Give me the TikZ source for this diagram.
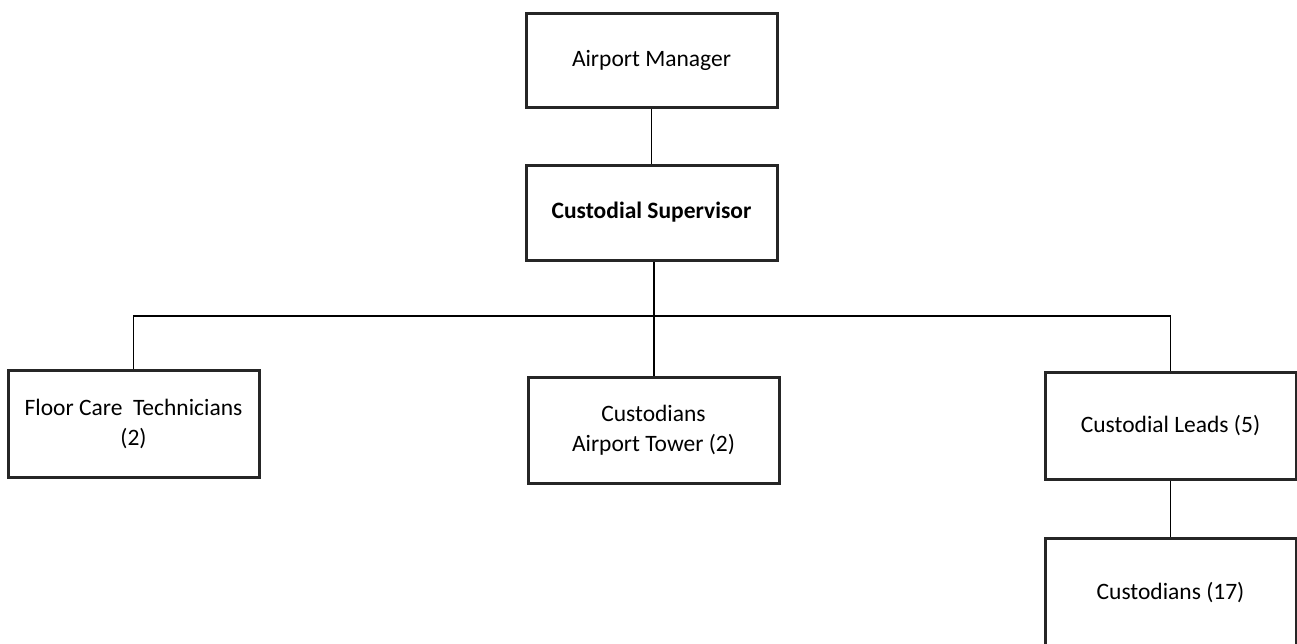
\documentclass[tikz,border=0pt]{standalone}
\usepackage{fontspec}
\setmainfont{Carlito}
\tikzset{
  post/.style={draw=black!85, line width=3pt, minimum width=251pt, align=center,
    font=\fontsize{23.5pt}{30pt}\selectfont},
  link/.style={line width=1.8pt}
}
\begin{document}
\begin{tikzpicture}[x=1pt,y=-1pt]
      \useasboundingbox (0,0) rectangle (1297,643);
      \draw
        (651.5,60) node[post, minimum height=94pt] (manager){Airport Manager}
        (651.5,212.5) node[post, minimum height=95pt] (super){\textbf{Custodial Supervisor}}
        (133.5,423.5) node[post, minimum height=107pt] (floor){Floor Care~ Technicians\\(2)}
        (653.5,430) node[post, minimum height=106pt] (tower){Custodians\\Airport Tower (2)}
        (1170.5,425.5) node[post, minimum height=107pt] (leads){Custodial Leads (5)}
        (1170.5,593) node[post, minimum height=110pt] (staff){Custodians (17)};
      \coordinate (bus) at (654,316);
      \begin{scope}[link]
        \draw (manager) to (super);
        \draw (super.south -| bus) to (bus);
        \draw (floor.north) -- (floor.north |- bus) -- (leads.north |- bus) -- (leads.north);
        \draw (tower.north -| bus) to (bus);
        \draw (leads) to (staff);
      \end{scope}
    \end{tikzpicture}
\end{document}
